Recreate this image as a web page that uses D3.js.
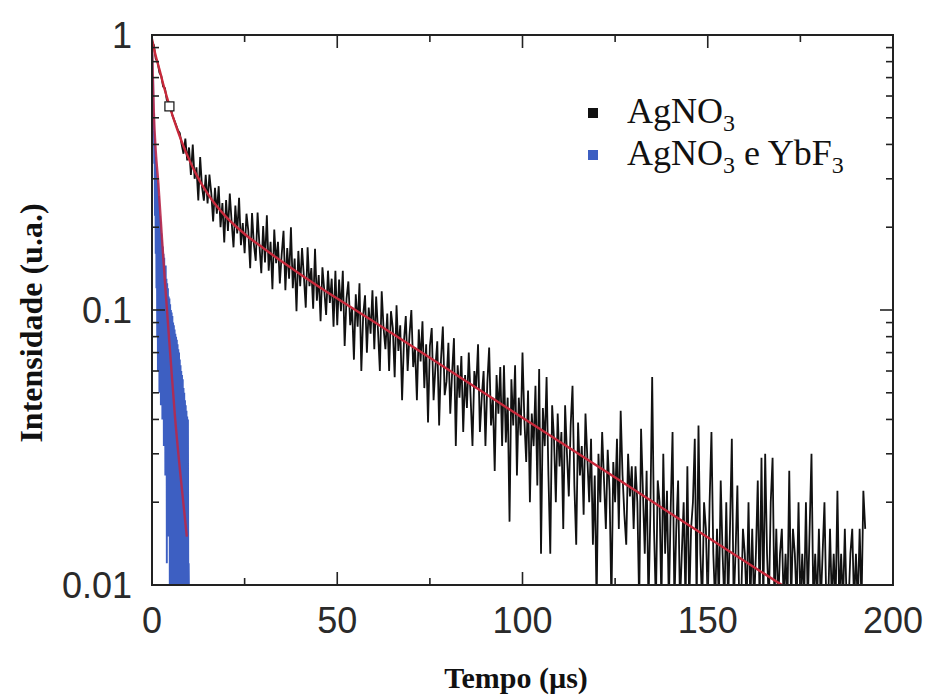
<!DOCTYPE html>
<html><head><meta charset="utf-8">
<script src="https://cdn.jsdelivr.net/npm/d3@7/dist/d3.min.js"></script>
<style>body{margin:0;background:#fff} svg{display:block}</style>
</head><body>
<script>
// ---------- data ----------
const agStep = 0.5; // µs between samples, AgNO3 decay
const agValues = [
0.95,0.92,0.82,0.80,0.73,0.71,0.65,0.64,0.58,0.57,
0.55,0.51,0.49,0.47,0.45,0.44,0.40,0.37,0.42,0.35,
0.39,0.31,0.40,0.30,0.33,0.25,0.36,0.28,0.25,0.31,
0.244,0.311,0.266,0.210,0.278,0.224,0.282,0.200,0.245,0.176,
0.251,0.194,0.265,0.209,0.169,0.240,0.190,0.256,0.172,0.207,
0.161,0.224,0.194,0.142,0.225,0.173,0.151,0.226,0.172,0.136,
0.202,0.149,0.221,0.139,0.177,0.119,0.196,0.148,0.177,0.125,
0.159,0.194,0.118,0.168,0.130,0.200,0.120,0.154,0.099,0.164,
0.122,0.168,0.132,0.102,0.169,0.122,0.142,0.101,0.167,0.108,
0.134,0.091,0.143,0.118,0.096,0.139,0.106,0.130,0.087,0.139,
0.088,0.129,0.099,0.139,0.074,0.110,0.127,0.088,0.102,0.066,
0.114,0.087,0.125,0.060,0.096,0.113,0.070,0.102,0.082,0.118,
0.072,0.112,0.084,0.060,0.117,0.086,0.072,0.097,0.060,0.099,
0.086,0.057,0.104,0.071,0.088,0.047,0.077,0.095,0.060,0.081,
0.100,0.062,0.073,0.047,0.085,0.065,0.091,0.052,0.075,0.039,
0.074,0.086,0.047,0.062,0.077,0.038,0.066,0.087,0.049,0.055,
0.076,0.042,0.059,0.079,0.032,0.063,0.048,0.068,0.036,0.058,
0.044,0.070,0.048,0.032,0.060,0.052,0.075,0.036,0.048,0.060,
0.032,0.054,0.073,0.038,0.048,0.026,0.058,0.042,0.062,0.032,
0.063,0.033,0.048,0.017,0.056,0.038,0.063,0.025,0.048,0.035,
0.070,0.040,0.028,0.051,0.020,0.042,0.032,0.053,0.023,0.061,
0.013,0.044,0.032,0.057,0.025,0.013,0.045,0.034,0.020,0.042,
0.027,0.036,0.016,0.045,0.030,0.021,0.038,0.053,0.023,0.014,
0.039,0.025,0.032,0.018,0.042,0.029,0.020,0.034,0.014,0.025,
0,0.030,0.020,0.036,0.024,0.016,0.031,0.022,0,0.028,
0.020,0.034,0.016,0.043,0.025,0.018,0.014,0.030,0.021,0.027,
0.016,0.027,0.020,0,0.037,0.022,0.013,0.026,0,0.018,
0.057,0.016,0,0.024,0.020,0,0.030,0.013,0.022,0,
0.019,0.036,0,0.016,0.024,0,0.013,0.020,0,0.027,
0,0.016,0.020,0.034,0,0.038,0.013,0,0.020,0.016,
0,0.020,0.036,0.013,0,0.016,0,0.024,0.013,0,
0.020,0,0.016,0.034,0,0.013,0.023,0,0,0.016,
0.013,0,0.020,0,0.016,0,0.013,0.024,0,0.029,
0,0.030,0.013,0,0.020,0.029,0,0.016,0,0.013,
0.016,0,0.013,0,0.026,0,0.016,0.013,0,0.020,
0,0.013,0,0.020,0,0.016,0.030,0,0.013,0,
0.016,0,0.013,0.020,0,0,0.016,0,0.013,0,
0.022,0,0.013,0,0.016,0,0,0.013,0.016,0,
0.013,0,0.016,0,0.022,0.016
];
const ybStep = 0.1; // µs between samples, AgNO3 e YbF3 decay
const ybValues = [
0.95,0.80,0.62,0.70,0.45,0.52,0.34,0.42,0.22,0.36,
0.16,0.33,0.12,0.30,0.08,0.29,0.06,0.25,0.10,0.26,
0.05,0.22,0.07,0.21,0.045,0.19,0.09,0.18,0.04,0.17,
0.06,0.16,0.032,0.155,0.05,0.14,0.025,0.145,0.04,0.13,
0.012,0.125,0.03,0.12,0.015,0.112,0.035,0.11,0.01,0.105,
0.02,0.10,0.008,0.098,0.025,0.095,0,0.09,0.018,0.088,
0,0.085,0.03,0.082,0,0.08,0.015,0.078,0,0.075,
0.022,0.072,0,0.07,0.012,0.066,0,0.063,0.02,0.06,
0,0.058,0.013,0.056,0,0.052,0.016,0.05,0,0.047,
0.012,0.045,0,0.043,0.014,0.041,0,0.04,0,0.012,
0
];
const agFitT = [0,1,2,3,4,5,6,8,10,12,15,20,25,30,40,50,60,75,90,100,120,140,160,170];
const agFitV = [0.96,0.84,0.75,0.665,0.596,0.537,0.488,0.41,0.353,0.31,0.265,0.218,0.189,0.168,0.135,0.11,0.0904,0.067,0.0496,0.0406,0.0272,0.0182,0.0122,0.0100];
const ybFitT = [0,0.2,0.5,1.0,1.7,2.6,3.5,5,6.2,7.8,9.4];
const ybFitV = [0.97,0.72,0.52,0.38,0.29,0.19,0.126,0.067,0.041,0.0242,0.015];
const markerT = [4.7];
const markerV = [0.55];
const xTickValues = [0,50,100,150,200];
const xMinorTicks = [25,75,125,175];
const yTickValues = [0.01,0.1,1];
const yTickLabels = ["0.01","0.1","1"];
const seriesNames = ["AgNO3","AgNO3 e YbF3"];
const seriesColors = ["#111111","#3d5fc2"];
const xTitle = "Tempo (µs)";
const yTitle = "Intensidade (u.a.)";

// ---------- drawing ----------
const W = 933, H = 697;
const L = 152, R = 893, T = 35, B = 585;
const svg = d3.select("body").append("svg").attr("width", W).attr("height", H);
const x = d3.scaleLinear().domain([0,200]).range([L,R]);
const y = d3.scaleLog().domain([0.01,1]).range([B,T]);

svg.append("defs").append("clipPath").attr("id","plotclip")
  .append("rect").attr("x",L).attr("y",T).attr("width",R-L).attr("height",B-T);

const agData = agValues.map((v,i)=>({t:i*agStep, v}));
const ybData = ybValues.map((v,i)=>({t:i*ybStep, v}));
const agFit = agFitT.map((t,i)=>({t, v:agFitV[i]}));
const ybFit = ybFitT.map((t,i)=>({t, v:ybFitV[i]}));

const yv = v => v > 0 ? y(v) : B + 20;
const rawLine = d3.line().x(d=>x(d.t)).y(d=>yv(d.v));
const fitLine = d3.line().x(d=>x(d.t)).y(d=>y(d.v)).curve(d3.curveMonotoneX);

const g = svg.append("g").attr("clip-path","url(#plotclip)");
g.append("path").datum(ybData).attr("d",rawLine).attr("fill","none")
  .attr("stroke",seriesColors[1]).attr("stroke-width",1.9).attr("stroke-linejoin","miter");
g.append("path").datum(ybFit).attr("d",fitLine).attr("fill","none")
  .attr("stroke","#b8284a").attr("stroke-width",2.4).attr("opacity",0.9);
g.append("path").datum(agData).attr("d",rawLine).attr("fill","none")
  .attr("stroke",seriesColors[0]).attr("stroke-width",1.8);
g.append("path").datum(agFit).attr("d",fitLine).attr("fill","none")
  .attr("stroke","#c8283a").attr("stroke-width",2.4);
g.selectAll("rect.mk").data(markerT.map((t,i)=>({t, v:markerV[i]}))).enter()
  .append("rect").attr("class","mk")
  .attr("x",d=>x(d.t)-4.5).attr("y",d=>y(d.v)-4.5).attr("width",9).attr("height",9)
  .attr("fill","#fff").attr("stroke","#111").attr("stroke-width",1.2);

// frame
svg.append("rect").attr("x",L).attr("y",T).attr("width",R-L).attr("height",B-T)
  .attr("fill","none").attr("stroke","#222").attr("stroke-width",2);

// ticks
const tk = svg.append("g").attr("stroke","#222").attr("stroke-width",1.6);
const MAJ = 13, MIN = 7;
xTickValues.forEach(t=>{
  tk.append("line").attr("x1",x(t)).attr("x2",x(t)).attr("y1",B).attr("y2",B-MAJ);
  tk.append("line").attr("x1",x(t)).attr("x2",x(t)).attr("y1",T).attr("y2",T+MAJ);
});
xMinorTicks.forEach(t=>{
  tk.append("line").attr("x1",x(t)).attr("x2",x(t)).attr("y1",B).attr("y2",B-MIN);
  tk.append("line").attr("x1",x(t)).attr("x2",x(t)).attr("y1",T).attr("y2",T+MIN);
});
const yMinor = y.ticks().filter(v => !yTickValues.some(m => Math.abs(m-v)/m < 1e-6));
yTickValues.forEach(v=>{
  tk.append("line").attr("x1",L).attr("x2",L+MAJ).attr("y1",y(v)).attr("y2",y(v));
  tk.append("line").attr("x1",R).attr("x2",R-MAJ).attr("y1",y(v)).attr("y2",y(v));
});
yMinor.forEach(v=>{
  tk.append("line").attr("x1",L).attr("x2",L+MIN).attr("y1",y(v)).attr("y2",y(v));
  tk.append("line").attr("x1",R).attr("x2",R-MIN).attr("y1",y(v)).attr("y2",y(v));
});

// tick labels
const lab = svg.append("g").attr("font-family","'Liberation Sans', Arial, sans-serif")
  .attr("font-size",36).attr("fill","#2a2a2a");
xTickValues.forEach(t=>{
  lab.append("text").attr("x",x(t)).attr("y",633).attr("text-anchor","middle").text(String(t));
});
yTickValues.forEach((v,i)=>{
  lab.append("text").attr("x",132).attr("y",y(v)).attr("dy","0.36em")
    .attr("text-anchor","end").text(yTickLabels[i]);
});

// axis titles
svg.append("text").attr("x",516).attr("y",688).attr("text-anchor","middle")
  .attr("font-family","'Liberation Serif', 'Times New Roman', serif").attr("font-weight","bold")
  .attr("font-size",30).attr("fill","#111").text(xTitle);
svg.append("text").attr("transform","translate(42,323) rotate(-90)").attr("text-anchor","middle")
  .attr("font-family","'Liberation Serif', 'Times New Roman', serif").attr("font-weight","bold")
  .attr("font-size",32).attr("fill","#111").text(yTitle);

// legend
const leg = svg.append("g").attr("font-family","'Liberation Serif', 'Times New Roman', serif")
  .attr("fill","#111");
seriesNames.forEach((name,i)=>{
  const by = 123 + i*42;
  leg.append("rect").attr("x",588).attr("y",by-15).attr("width",10).attr("height",10)
    .attr("fill",seriesColors[i]);
  const txt = leg.append("text").attr("x",627).attr("y",by).attr("font-size",36);
  name.split(/(\d+)/).filter(s=>s.length).forEach(part=>{
    if (/^\d+$/.test(part)) {
      txt.append("tspan").attr("font-size",24).attr("dy",8).text(part);
    } else {
      const sp = txt.append("tspan").text(part);
      if (txt.selectAll("tspan").size() > 1) sp.attr("dy",-8);
    }
  });
});
</script>
</body></html>
